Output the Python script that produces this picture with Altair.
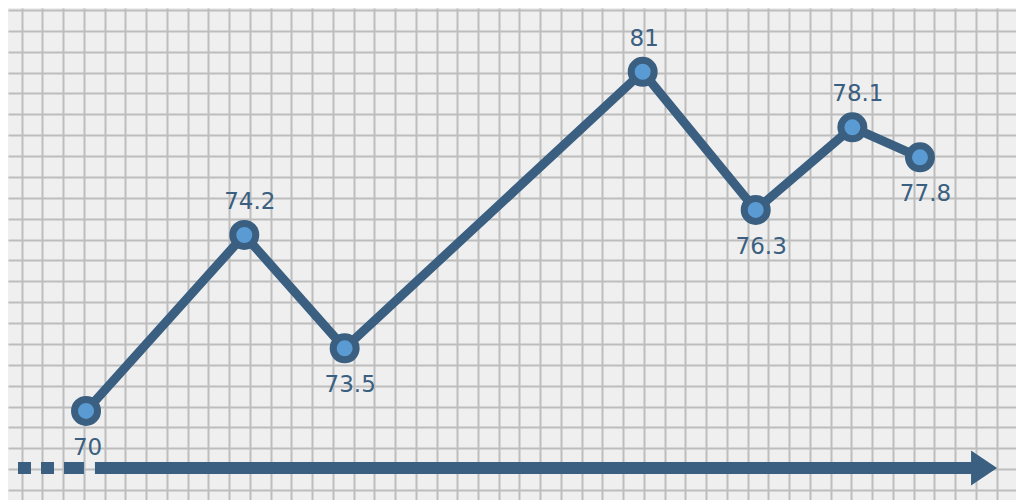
import altair as alt
import pandas as pd

# ---- data ----
values = [70, 74.2, 73.5, 81, 76.3, 78.1, 77.8]          # labelled values
col = [4.10, 11.73, 16.57, 30.94, 36.39, 41.05, 44.31]    # horizontal position (grid columns)
row = [3.79, 12.22, 6.79, 20.04, 13.42, 17.38, 15.94]     # vertical position (grid rows)
side = ["below", "above", "below", "above", "below", "above", "below"]

df = pd.DataFrame({
    "col": col,
    "row": row,
    "value": values,
    "side": side,
    "label": [f"{v:g}" for v in values],
})

# baseline arrow (grid units)
dash_df = pd.DataFrame({"x0": [0.82], "x1": [4.00], "y": [1.054]})
solid_df = pd.DataFrame({"x0": [4.53], "x1": [46.9], "y": [1.054]})
head_df = pd.DataFrame({"x0": [47.40], "y": [1.054]})

DARK = "#3a5f80"
FILL = "#5a9bd4"
FONT = "DejaVu Sans"

xs = alt.Scale(domain=[0.3375, 48.94], nice=False, zero=False)
ys = alt.Scale(domain=[-0.479, 23.096], nice=False, zero=False)

grid_style = dict(grid=True, labels=False, ticks=False, domain=False, title=None,
                  gridColor="#bdbdbd", gridWidth=2, gridOpacity=1)
xaxis = alt.Axis(values=list(range(1, 49)), **grid_style)
yaxis = alt.Axis(values=list(range(0, 24)), **grid_style)

X = lambda f: alt.X(f"{f}:Q", scale=xs, axis=xaxis)
Y = lambda f: alt.Y(f"{f}:Q", scale=ys, axis=yaxis)

dashed = alt.Chart(dash_df).mark_rule(
    color=DARK, strokeWidth=12, strokeDash=[13, 10, 13, 10, 20, 60], strokeCap="butt"
).encode(x=X("x0"), x2="x1:Q", y=Y("y"))

solid = alt.Chart(solid_df).mark_rule(
    color=DARK, strokeWidth=12, strokeCap="butt"
).encode(x=X("x0"), x2="x1:Q", y=Y("y"))

head = alt.Chart(head_df).mark_point(
    shape="M-1,-1.35L1,0L-1,1.35Z", size=676, filled=True, color=DARK, opacity=1
).encode(x=X("x0"), y=Y("y"))

line = alt.Chart(df).mark_line(
    color=DARK, strokeWidth=9, strokeJoin="miter"
).encode(x=X("col"), y=Y("row"))

points = alt.Chart(df).mark_point(
    shape="circle", size=529, filled=True, fill=FILL, stroke=DARK, strokeWidth=7, opacity=1
).encode(x=X("col"), y=Y("row"))


def label_layer(which, decimal, dy):
    cond = f"datum.side == '{which}' && " + ("indexof(datum.label, '.') >= 0" if decimal
                                              else "indexof(datum.label, '.') < 0")
    return alt.Chart(df).transform_filter(cond).mark_text(
        font=FONT, fontSize=23, color=DARK, align="center", baseline="alphabetic",
        dy=dy, dx=5.5 if decimal else 1.5
    ).encode(x=X("col"), y=Y("row"), text="label:N")


labels = [
    label_layer("above", True, -26), label_layer("above", False, -26),
    label_layer("below", True, 44), label_layer("below", False, 44),
]

chart = alt.layer(
    dashed, solid, head, line, points, *labels
).properties(
    width=1008, height=492, padding=0,
    autosize=alt.AutoSizeParams(type="none"),
    background="#efefef",
).configure_view(
    fill="#efefef", stroke=None
)

chart.save("out.html", embed_options={"renderer": "svg", "actions": False})
